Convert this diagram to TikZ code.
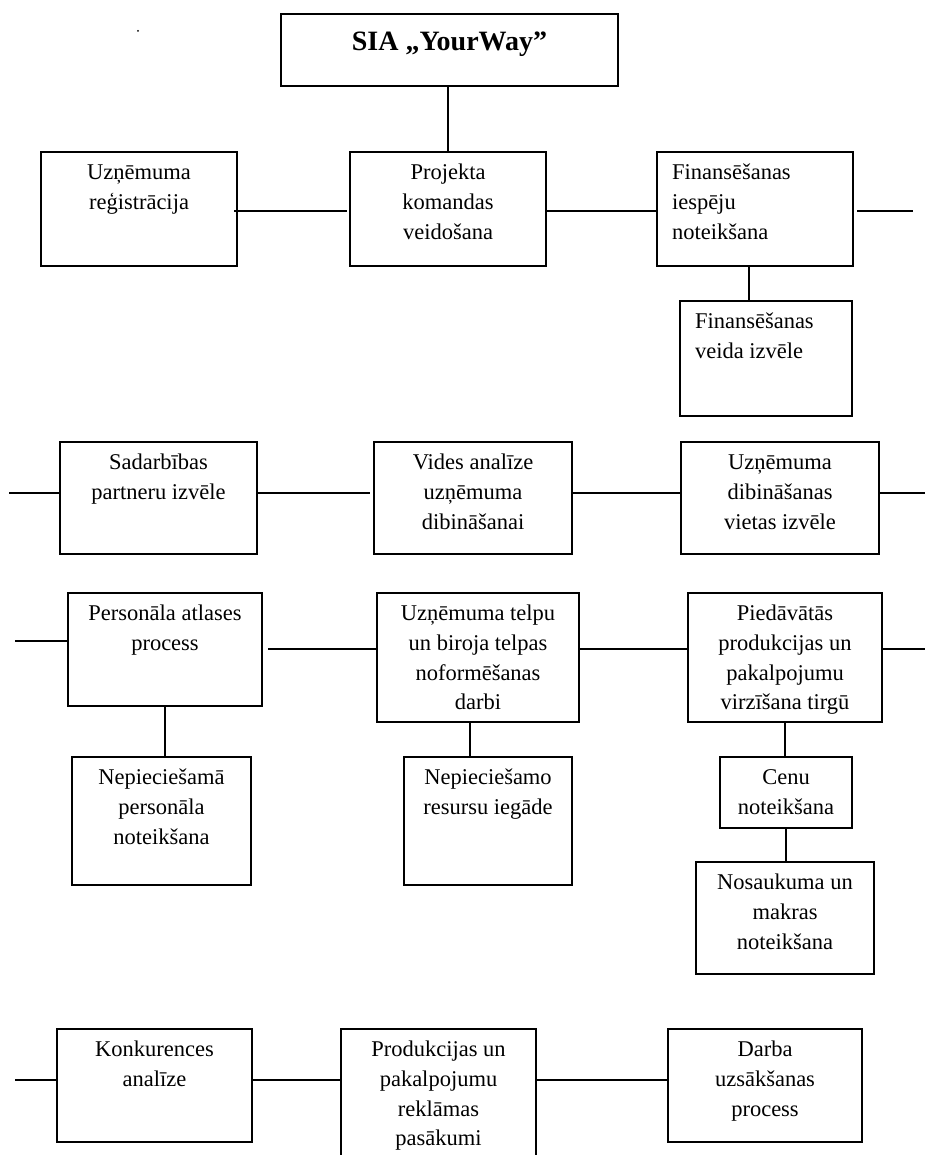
\documentclass[tikz,border=0pt]{standalone}
\usepackage{fontspec}
\setmainfont{Liberation Serif}
\usetikzlibrary{positioning}

\newcommand{\bx}[3]{\parbox[t][#2pt][t]{#1pt}{\centering\rule{0pt}{27.5pt}#3}}
\newcommand{\bxl}[3]{\parbox[t][#2pt][t]{#1pt}{\raggedright\leftskip=15pt\rule{0pt}{27.5pt}#3}}

\begin{document}
\begin{tikzpicture}[x=1pt,y=-1pt,
  blok/.style={draw,line width=1.8pt,inner sep=0pt,outer sep=0pt,anchor=north west,
    font=\fontsize{22.5}{29.8}\selectfont},
  savite/.style={line width=2pt}]
   \useasboundingbox (0,0) rectangle (925,1155);
   \clip (0,0) rectangle (925,1155);
   \fill (138,31) circle (1pt);
   % top
   \node [blok] (sia) at (281,14) {\parbox[t][72pt][t]{337pt}{\centering\bfseries\fontsize{28}{30}\selectfont\rule{0pt}{37pt}SIA „YourWay”}};
   % row 1
   \node [blok] (uzreg)   at (41,152)  {\bx{196}{114}{Uzņēmuma\\reģistrācija}};
   \node [blok] (proj)    at (350,152) {\bx{196}{114}{Projekta\\komandas\\veidošana}};
   \node [blok] (finiesp) at (657,152) {\bxl{196}{114}{Finansēšanas\\iespēju\\noteikšana}};
   \node [blok] (finveid) at (680,301) {\bxl{172}{115}{Finansēšanas\\veida izvēle}};
   % row 2
   \node [blok] (sadarb) at (60,442)  {\bx{197}{112}{Sadarbības\\partneru izvēle}};
   \node [blok] (vides)  at (374,442) {\bx{198}{112}{Vides analīze\\uzņēmuma\\dibināšanai}};
   \node [blok] (vieta)  at (681,442) {\bx{198}{112}{Uzņēmuma\\dibināšanas\\vietas izvēle}};
   % row 3
   \node [blok] (pers)   at (68,593)  {\bx{194}{113}{Personāla atlases\\process}};
   \node [blok] (telpu)  at (377,593) {\bx{202}{129}{Uzņēmuma telpu\\un biroja telpas\\noformēšanas\\darbi}};
   \node [blok] (pied)   at (688,593) {\bx{194}{129}{Piedāvātās\\produkcijas un\\pakalpojumu\\virzīšana tirgū}};
   \node [blok] (nepers) at (72,757)  {\bx{179}{128}{Nepieciešamā\\personāla\\noteikšana}};
   \node [blok] (resurs) at (404,757) {\bx{168}{128}{Nepieciešamo\\resursu iegāde}};
   \node [blok] (cenu)   at (720,757) {\bx{132}{71}{Cenu\\noteikšana}};
   \node [blok] (nosauk) at (696,862) {\bx{178}{112}{Nosaukuma un\\makras\\noteikšana}};
   % row 4
   \node [blok] (konk)  at (57,1029)  {\bx{195}{113}{Konkurences\\analīze}};
   \node [blok] (prod)  at (341,1029) {\bx{195}{140}{Produkcijas un\\pakalpojumu\\reklāmas\\pasākumi}};
   \node [blok] (darba) at (668,1029) {\bx{194}{113}{Darba\\uzsākšanas\\process}};
   % free ends of the row lines
   \coordinate (r1end)   at (913,211);
   \coordinate (r2start) at (9,493);
   \coordinate (r2end)   at (925,493);
   \coordinate (r3start) at (15,641);
   \coordinate (r3end)   at (925,649);
   \coordinate (r4start) at (15,1080);
   % connectors
   \draw [savite] (proj.north |- sia.south) -- (proj.north);
   \draw [savite] ([xshift=-3pt]uzreg.east |- r1end) -- ([xshift=-3pt]proj.west |- r1end);
   \draw [savite] (proj.east |- r1end) -- (finiesp.west |- r1end);
   \draw [savite] ([xshift=4pt]finiesp.east |- r1end) -- (r1end);
   \draw [savite] ([xshift=-6pt]finiesp.south) -- ([xshift=-6pt]finiesp.south |- finveid.north);
   \draw [savite] (r2start) -- (sadarb.west |- r2start);
   \draw [savite] (sadarb.east |- r2start) -- ([xshift=-4pt]vides.west |- r2start);
   \draw [savite] (vides.east |- r2start) -- (vieta.west |- r2start);
   \draw [savite] (vieta.east |- r2start) -- (r2end);
   \draw [savite] (r3start) -- (pers.west |- r3start);
   \draw [savite] ([xshift=6pt]pers.east |- r3end) -- (telpu.west |- r3end);
   \draw [savite] (telpu.east |- r3end) -- (pied.west |- r3end);
   \draw [savite] (pied.east |- r3end) -- (r3end);
   \draw [savite] (pers.south) -- (pers.south |- nepers.north);
   \draw [savite] ([xshift=-8pt]telpu.south) -- ([xshift=-8pt]telpu.south |- resurs.north);
   \draw [savite] (pied.south) -- (pied.south |- cenu.north);
   \draw [savite] (cenu.south) -- (cenu.south |- nosauk.north);
   \draw [savite] (r4start) -- (konk.west |- r4start);
   \draw [savite] (konk.east |- r4start) -- (prod.west |- r4start);
   \draw [savite] (prod.east |- r4start) -- (darba.west |- r4start);
\end{tikzpicture}
\end{document}
